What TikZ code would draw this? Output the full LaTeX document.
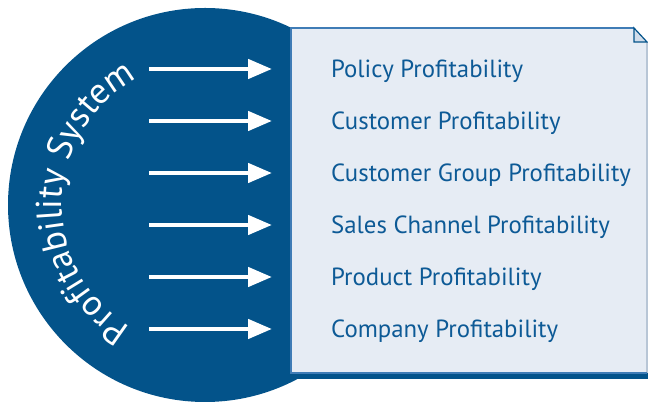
\documentclass[tikz,border=0pt]{standalone}
\usepackage{fontspec}
\setmainfont{PT Sans}
\usetikzlibrary{arrows.meta,decorations.text}
\definecolor{deepblue}{HTML}{03538A}
\definecolor{panelfill}{HTML}{E6ECF4}
\definecolor{paneledge}{HTML}{3F7CB6}
\definecolor{sideedge}{HTML}{B8C6D6}
\definecolor{foldfill}{HTML}{D2DDEA}
\definecolor{labelblue}{HTML}{0D5A96}
\tikzset{
  flowarrow/.style={white, line width=4.6pt, -{Triangle[length=24pt,width=19pt]}},
  itemlabel/.style={anchor=base west, inner sep=0pt, text=labelblue,
    font=\fontsize{24.8}{24.8}\selectfont},
}
\begin{document}
\begin{tikzpicture}[x=1pt,y=1pt]
\useasboundingbox (0,0) rectangle (648,403);
% dark disc and the band behind the panel
\fill[deepblue] (205,198) circle[radius=197];
\fill[deepblue] (205,24) rectangle (648,300);
% panel with folded top-right corner
\fill[panelfill] (291,30) -- (647,30) -- (647,361) -- (634,375) -- (291,375) -- cycle;
\draw[sideedge, line width=1.2pt] (647,361) -- (647,30);
\draw[paneledge, line width=1.2pt] (647,30) -- (291,30) -- (291,375) -- (634,375);
\draw[deepblue, line width=1.2pt, fill=foldfill, line join=miter]
  (634,375) -- (634,361) -- (647,361) -- cycle;
% curved title on the disc
\path[decorate, decoration={text along path, text align=center,
  text={|\fontsize{36}{36}\selectfont\color{white}|Profitability System}}]
  (205,198) ++(255:143) arc[start angle=255, end angle=102, radius=143];
% labels
\node[itemlabel] (l1) at (331,325.5) {Policy Profitability};
\node[itemlabel] (l2) at (331,273.5) {Customer Profitability};
\node[itemlabel] (l3) at (331,221.5) {Customer Group Profitability};
\node[itemlabel] (l4) at (331,169.5) {Sales Channel Profitability};
\node[itemlabel] (l5) at (331,117.5) {Product Profitability};
\node[itemlabel] (l6) at (331,65.5) {Company Profitability};
% arrows
\foreach \i/\y in {1/334,2/282,3/230,4/178,5/126,6/74}{
  \coordinate (s\i) at (149,\y);
  \coordinate (e\i) at (272,\y);
  \draw[flowarrow] (s\i) -- (e\i);
}
\end{tikzpicture}
\end{document}
